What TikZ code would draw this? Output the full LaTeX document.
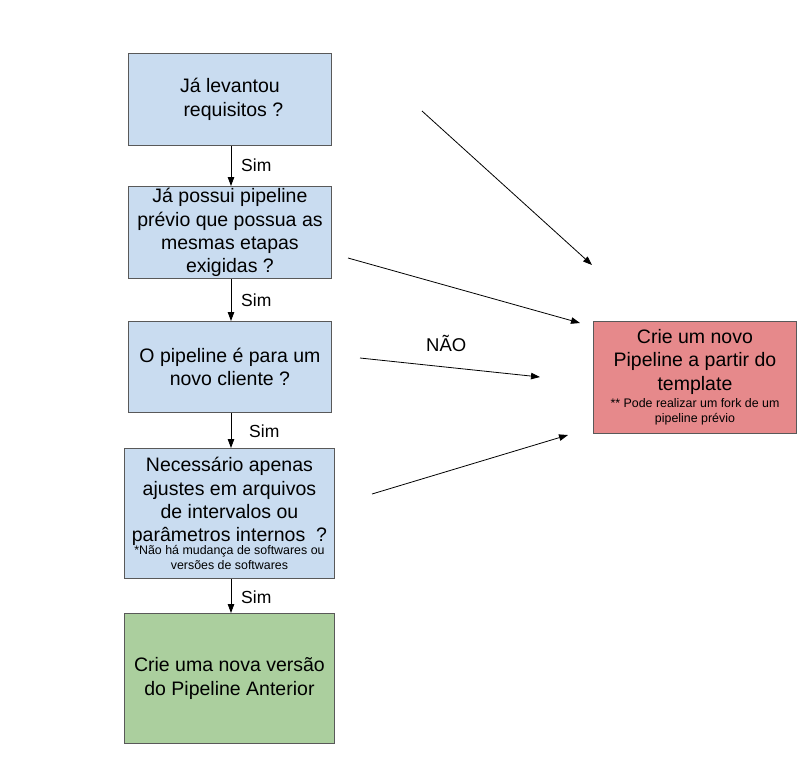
\documentclass[tikz,border=0pt]{standalone}
\usepackage{fontspec}
\setmainfont{Liberation Sans}
\usetikzlibrary{arrows.meta}
\definecolor{boxblue}{HTML}{C9DCF0}
\definecolor{boxred}{HTML}{E6898B}
\definecolor{boxgreen}{HTML}{ABCF9E}
\definecolor{edge}{HTML}{595959}
\tikzset{
  box/.style={draw=edge, line width=0.9pt, anchor=north west, align=center, inner sep=2pt,
    font=\fontsize{19.5}{23.3}\selectfont},
  bluebox/.style={box, fill=boxblue},
  arr/.style={line width=0.8pt, -{Triangle[length=9pt,width=6.5pt]}},
  lbl/.style={anchor=west, inner sep=0pt, font=\fontsize{17.5}{20}\selectfont}
}
\newcommand{\smalltxt}{\fontsize{12.4}{15}\selectfont}
\begin{document}
\begin{tikzpicture}[x=1pt,y=-1pt]
\useasboundingbox (0,0) rectangle (811,764);
\node[bluebox, minimum width=203pt, minimum height=92pt] (b1) at (128,53)
  {Já levantou\\\hspace*{0.35em}requisitos ?};
\node[bluebox, minimum width=203pt, minimum height=92pt] (b2) at (128,186)
  {Já possui pipeline\\prévio que possua as\\mesmas etapas\\exigidas ?};
\node[bluebox, minimum width=203pt, minimum height=91pt] (b3) at (128,321)
  {O pipeline é para um\\novo cliente ?};
\node[bluebox, minimum width=210pt, minimum height=130pt] (b4) at (124,448)
  {Necessário apenas\\ajustes em arquivos\\de intervalos ou\\parâmetros internos\ \ ?\\[-11pt]
   \smalltxt *Não há mudança de softwares ou\\[-8pt]\smalltxt versões de softwares};
\node[box, fill=boxgreen, minimum width=210pt, minimum height=130pt,
  font=\fontsize{19.5}{24}\selectfont] (b5) at (124,613)
  {Crie uma nova versão\\do Pipeline Anterior};
\node[box, fill=boxred, minimum width=203pt, minimum height=112pt] (r) at (593,321)
  {Crie um novo\\Pipeline a partir do\\template\\[-6pt]
   \smalltxt ** Pode realizar um fork de um\\[-8pt]\smalltxt pipeline prévio};

\draw[arr] (b1.south -| 231,0) -- (b2.north -| 231,0);
\draw[arr] (b2.south -| 231,0) -- (b3.north -| 231,0);
\draw[arr] (b3.south -| 231,0) -- (b4.north -| 231,0);
\draw[arr] (b4.south -| 231,0) -- (b5.north -| 231,0);
\node[lbl] (s1) at (241,165) {Sim};
\node[lbl] (s2) at (241,300) {Sim};
\node[lbl] (s3) at (249,431) {Sim};
\node[lbl] (s4) at (241,597) {Sim};

\coordinate (d1s) at (422,111); \coordinate (d1e) at (592,265);
\coordinate (d2s) at (348,258); \coordinate (d2e) at (580,323);
\coordinate (d3s) at (360,358); \coordinate (d3e) at (540,377);
\coordinate (d4s) at (372,494); \coordinate (d4e) at (568,435);
\draw[arr] (d1s) -- (d1e);
\draw[arr] (d2s) -- (d2e);
\draw[arr] (d3s) -- (d3e);
\draw[arr] (d4s) -- (d4e);
\node[lbl, font=\fontsize{18.5}{20}\selectfont] (nao) at (426,343) {NÃO};
\end{tikzpicture}
\end{document}
